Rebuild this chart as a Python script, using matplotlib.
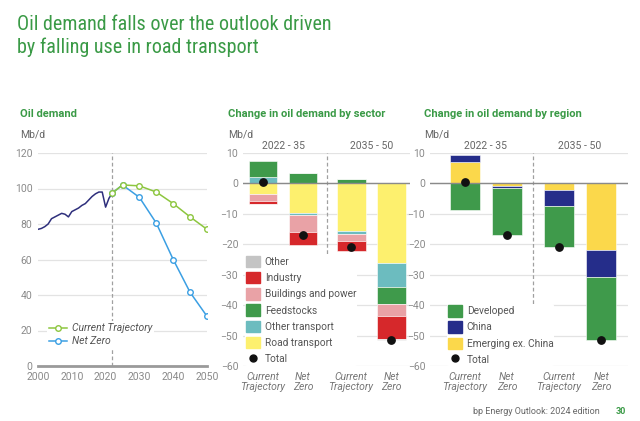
import matplotlib
matplotlib.use("Agg")
import matplotlib.pyplot as plt
from matplotlib.patches import Patch
from matplotlib.lines import Line2D
import matplotlib.transforms as mtrans
from matplotlib import font_manager

plt.rcParams['font.family'] = ['Roboto', 'DejaVu Sans']

# ---------------- data ----------------
hist_years = list(range(2000, 2023))
hist_vals = [77, 77.5, 78.5, 80, 83, 84, 85, 86, 85.5, 84, 87, 88, 89, 90.5, 91.5,
             93.5, 95.5, 97, 98, 98, 89.5, 94.5, 97.5]
proj_years = [2022, 2025, 2030, 2035, 2040, 2045, 2050]
ct_vals = [97.5, 102, 101.5, 98, 91.5, 84, 77]
nz_vals = [97.5, 102, 95, 80.5, 60, 41.5, 28]

bar_labels = ["Current\nTrajectory", "Net\nZero", "Current\nTrajectory", "Net\nZero"]
periods = ["2022 - 35", "2035 - 50"]

sector_names = ["Road transport", "Other transport", "Feedstocks", "Buildings and power", "Industry", "Other"]
road_transport = [-3.5, -9.6, -15.5, -26.0]
other_transport = [2.0, -0.9, -1.2, -8.0]
feedstocks = [5.5, 3.4, 1.5, -5.5]
buildings_power = [-2.2, -5.6, -2.2, -4.0]
industry = [-1.0, -4.0, -3.4, -7.6]
other = [-0.1, 0.0, 0.0, -0.5]
sector_total = [0.5, -17.0, -20.8, -51.6]

region_names = ["Emerging ex. China", "China", "Developed"]
emerging = [7.2, -1.0, -2.2, -21.8]
china = [2.0, -0.5, -5.1, -9.0]
developed = [-8.6, -15.5, -13.6, -20.8]
region_total = [0.5, -17.0, -20.9, -51.6]

title_lines = ["Oil demand falls over the outlook driven", "by falling use in road transport"]

# ---------------- styles ----------------
GREEN = "#3a9a46"
GRAY_T = "#8a8a8a"
GRID = "#e3e3e3"
sector_colors = {"Road transport": "#fdf06e", "Other transport": "#6cbcbf",
                 "Feedstocks": "#3f9a4b", "Buildings and power": "#e9a2a6",
                 "Industry": "#d6282b", "Other": "#c4c4c4"}
region_colors = {"Emerging ex. China": "#fbd84b", "China": "#252d8a", "Developed": "#3f9a4b"}

W, H = 640, 421
fig = plt.figure(figsize=(6.4, 4.21), dpi=100)

def frac(x0, x1, ytop=153, ybot=366):
    return [x0 / W, 1 - ybot / H, (x1 - x0) / W, (ybot - ytop) / H]

# title: fit first line to reference width
names = {f.name for f in font_manager.fontManager.ttflist}
cond = [n for n in ["Roboto Condensed", "Liberation Sans Narrow", "DejaVu Sans Condensed"] if n in names]
title_family = cond[:1] + ['Roboto']
renderer = fig.canvas.get_renderer()
t1 = fig.text(17 / W, 1 - 30 / H, title_lines[0], color=GREEN, fontsize=15, va="baseline",
              ha="left", family=title_family)
wpx = t1.get_window_extent(renderer).width
fs = 15 * 316 / wpx
t1.set_fontsize(fs)
fig.text(17 / W, 1 - 53 / H, title_lines[1], color=GREEN, fontsize=fs, va="baseline",
         ha="left", family=title_family)

def style_axes(ax):
    for s in ax.spines.values():
        s.set_visible(False)
    ax.tick_params(axis="both", length=0, colors=GRAY_T, labelsize=7.5)
    ax.yaxis.grid(True, color=GRID, lw=0.9)
    ax.set_axisbelow(True)

# ---- panel 1 ----
ax1 = fig.add_axes(frac(38, 207))
style_axes(ax1)
ax1.set_xlim(2000, 2050)
ax1.set_ylim(0, 120)
ax1.set_yticks(range(0, 121, 20))
ax1.set_xticks(range(2000, 2051, 10))
ax1.tick_params(axis="y", pad=4)
ax1.tick_params(axis="x", pad=4)
ax1.axhline(0, color="#9a9a9a", lw=2, zorder=2, clip_on=False)
ax1.axvline(2022, color="#a0a0a0", lw=0.9, ls=(0, (3, 2)), zorder=1)
ax1.plot(hist_years, hist_vals, color="#2e2f7c", lw=1.1, zorder=3)
ax1.plot(proj_years, nz_vals, color="#3b9fe3", lw=1.1, marker="o", ms=4,
         mfc="white", mec="#3b9fe3", mew=1, zorder=4, label="Net Zero")
ax1.plot(proj_years, ct_vals, color="#8dc63f", lw=1.1, marker="o", ms=4,
         mfc="white", mec="#8dc63f", mew=1, zorder=5, label="Current Trajectory")
h1 = [Line2D([], [], color="#8dc63f", lw=1.1, marker="o", ms=4, mfc="white", mec="#8dc63f"),
      Line2D([], [], color="#3b9fe3", lw=1.1, marker="o", ms=4, mfc="white", mec="#3b9fe3")]
leg1 = ax1.legend(h1, ["Current Trajectory", "Net Zero"], loc="upper left",
                  bbox_to_anchor=(0.02, 0.235), frameon=True, framealpha=1, edgecolor="none",
                  handlelength=1.8, handletextpad=0.4, labelspacing=0.3,
                  borderpad=0.2, prop={"style": "italic", "size": 7.5})
for t in leg1.get_texts():
    t.set_color("#555555")

fig.text(20 / W, 1 - 114 / H, "Oil demand", color=GREEN, fontsize=8, fontweight="bold", va="center")
fig.text(20 / W, 1 - 135 / H, "Mb/d", color="#666666", fontsize=7.5, va="center")

# ---- bar panels ----
def bar_panel(ax, pos, series, names, colors, totals, xlim, dash_x):
    style_axes(ax)
    ax.set_ylim(-60, 10)
    ax.set_yticks(range(-60, 11, 10))
    ax.set_xlim(*xlim)
    ax.axhline(0, color="#8a8a8a", lw=1, zorder=4)
    ax.axvline(dash_x, color="#a0a0a0", lw=0.9, ls=(0, (3, 2)), zorder=1)
    pos_base = [0.0] * len(pos)
    neg_base = [0.0] * len(pos)
    for vals, name in zip(series, names):
        for i, v in enumerate(vals):
            if v >= 0:
                ax.bar(pos[i], v, bottom=pos_base[i], width=0.72, color=colors[name],
                       edgecolor="white", lw=0.4, zorder=3)
                pos_base[i] += v
            else:
                ax.bar(pos[i], v, bottom=neg_base[i], width=0.72, color=colors[name],
                       edgecolor="white", lw=0.4, zorder=3)
                neg_base[i] += v
    ax.scatter(pos, totals, s=28, color="#111111", zorder=6)
    ax.set_xticks(pos)
    ax.set_xticklabels(bar_labels, fontstyle="italic", color="#777777", fontsize=7.5,
                       linespacing=1.0)
    ax.tick_params(axis="x", pad=4)
    tr = mtrans.blended_transform_factory(ax.transData, ax.transAxes)
    ax.text((pos[0] + pos[1]) / 2, 1.035, periods[0], transform=tr, ha="center", va="center",
            fontsize=7.5, color="#666666")
    ax.text((pos[2] + pos[3]) / 2, 1.035, periods[1], transform=tr, ha="center", va="center",
            fontsize=7.5, color="#666666")

legend_kw = dict(frameon=True, framealpha=1, edgecolor="none", fontsize=7.3,
                 handlelength=1.35, handleheight=1.35, handletextpad=0.5, labelspacing=0.48,
                 borderpad=0.1, borderaxespad=0.2)

ax2 = fig.add_axes(frac(243, 410))
pos2 = [0, 1, 2.2, 3.2]
bar_panel(ax2, pos2, [road_transport, other_transport, feedstocks, buildings_power, industry, other],
          sector_names, sector_colors, sector_total, (-0.5, 3.67), 1.6)
leg_order2 = ["Other", "Industry", "Buildings and power", "Feedstocks", "Other transport", "Road transport"]
h2 = [Patch(color=sector_colors[n]) for n in leg_order2] + \
     [Line2D([], [], ls="none", marker="o", color="#111111", ms=5)]
leg2 = ax2.legend(h2, leg_order2 + ["Total"], loc="upper left", bbox_to_anchor=(0.0, 0.532),
                  **legend_kw)
for t in leg2.get_texts():
    t.set_color("#555555")
fig.text(228 / W, 1 - 114 / H, "Change in oil demand by sector", color=GREEN, fontsize=8,
         fontweight="bold", va="center")
fig.text(228 / W, 1 - 135 / H, "Mb/d", color="#666666", fontsize=7.5, va="center")

ax3 = fig.add_axes(frac(430, 628))
pos3 = [0, 1, 2.24, 3.24]
bar_panel(ax3, pos3, [emerging, china, developed], region_names, region_colors, region_total,
          (-0.83, 3.88), 1.62)
leg_order3 = ["Developed", "China", "Emerging ex. China"]
h3 = [Patch(color=region_colors[n]) for n in leg_order3] + \
     [Line2D([], [], ls="none", marker="o", color="#111111", ms=5)]
leg3 = ax3.legend(h3, leg_order3 + ["Total"], loc="upper left", bbox_to_anchor=(0.075, 0.3),
                  **legend_kw)
for t in leg3.get_texts():
    t.set_color("#555555")
fig.text(424 / W, 1 - 114 / H, "Change in oil demand by region", color=GREEN, fontsize=8,
         fontweight="bold", va="center")
fig.text(424 / W, 1 - 135 / H, "Mb/d", color="#666666", fontsize=7.5, va="center")

fig.text(600 / W, 1 - 411 / H, "bp Energy Outlook: 2024 edition", color="#666666", fontsize=6.5,
         ha="right", va="center")
fig.text(626 / W, 1 - 411 / H, "30", color=GREEN, fontsize=6.5, fontweight="bold",
         ha="right", va="center")

fig.savefig("out.png", dpi=100)
